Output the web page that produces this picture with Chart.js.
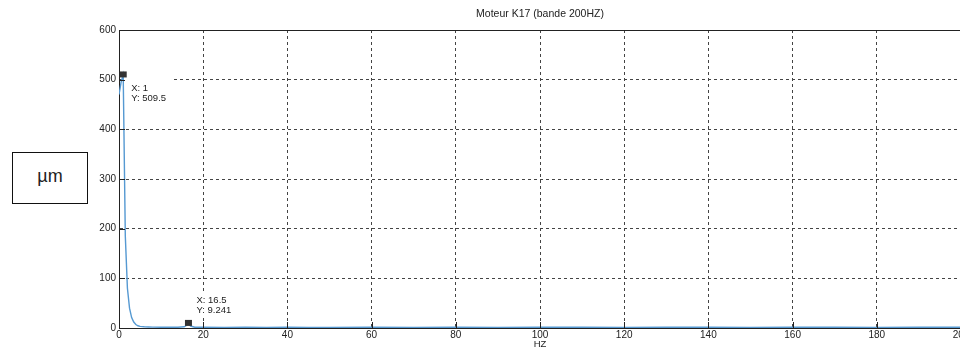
<!DOCTYPE html>
<html>
<head>
<meta charset="utf-8">
<script src="https://cdn.jsdelivr.net/npm/chart.js@4.4.0/dist/chart.umd.min.js"></script>
<style>
  html, body { margin: 0; padding: 0; background: #fff; overflow: hidden; }
  body { width: 960px; height: 349px; position: relative; }
  #wrap { position: absolute; left: 0; top: 0; width: 1000px; height: 349px; }
  #unit {
    position: absolute; left: 12px; top: 152px; width: 73px; height: 49px;
    border: 1.6px solid #111; font-family: "Liberation Sans", Arial, sans-serif;
    font-size: 18px; color: #222; display: flex; align-items: center; justify-content: center;
    background: #fff; line-height: 1; padding-bottom: 4px; box-sizing: border-box; height: 52px; width: 76px;
  }
</style>
</head>
<body>
<div id="wrap"><canvas id="c" width="1000" height="349"></canvas></div>
<div id="unit">µm</div>
<script>
// ---- data ----
const chartTitle = "Moteur K17 (bande 200HZ)";
const xAxisTitle = "HZ";
const freqHz = [0, 0.5, 1, 1.5, 2, 2.5, 3, 3.5, 4, 4.5, 5, 6, 7, 8, 10, 12, 14, 15.5, 16, 16.5, 17, 18, 20, 25, 30, 35, 40, 45, 50, 60, 70, 80, 90, 100, 110, 120, 130, 140, 150, 160, 170, 180, 190, 200];
const amplitude = [470, 495, 509.5, 185, 80, 40, 21, 12, 7, 4.5, 3.2, 2.4, 2.0, 1.7, 1.5, 1.4, 1.5, 2.5, 5.0, 9.241, 4.0, 1.6, 1.4, 1.3, 1.5, 1.2, 1.4, 1.3, 1.2, 1.4, 1.3, 1.5, 1.3, 1.4, 1.5, 1.3, 1.4, 1.5, 1.3, 1.4, 1.5, 1.3, 1.4, 1.5];
const xTicks = [0, 20, 40, 60, 80, 100, 120, 140, 160, 180, 200];
const yTicks = [0, 100, 200, 300, 400, 500, 600];
const tipX = [1, 16.5];
const tipY = [509.5, 9.241];

// ---- presentation ----
const FONT = "'Liberation Sans', Arial, sans-serif";
const tipLayout = [
  { dx: 8, dy1: 13, dy2: 23, box: [2, 3, 48, 30] },
  { dx: 8, dy1: -23, dy2: -13, box: [5, -30, 52, -6] }
];

const points = freqHz.map((f, i) => ({ x: f, y: amplitude[i] }));
const tipPoints = tipX.map((x, i) => ({ x: x, y: tipY[i] }));

const extras = {
  id: 'extras',
  afterDatasetsDraw(chart) {
    const { ctx, chartArea: a, scales: { x, y } } = chart;
    ctx.save();
    ctx.strokeStyle = '#222'; ctx.lineWidth = 1; ctx.setLineDash([]);
    ctx.beginPath(); ctx.moveTo(a.left, a.top + 0.5); ctx.lineTo(a.right, a.top + 0.5); ctx.stroke();
    ctx.beginPath(); ctx.moveTo(a.right - 0.5, a.top); ctx.lineTo(a.right - 0.5, a.bottom); ctx.stroke();
    xTicks.forEach(v => {
      const px = Math.round(x.getPixelForValue(v)) + 0.5;
      ctx.beginPath(); ctx.moveTo(px, a.bottom); ctx.lineTo(px, a.bottom - 6); ctx.stroke();
    });
    yTicks.forEach(v => {
      const py = Math.round(y.getPixelForValue(v)) + 0.5;
      ctx.beginPath(); ctx.moveTo(a.left, py); ctx.lineTo(a.left + 6, py); ctx.stroke();
    });
    tipPoints.forEach((p, i) => {
      const L = tipLayout[i];
      const px = x.getPixelForValue(p.x), py = y.getPixelForValue(p.y);
      ctx.fillStyle = '#fff';
      ctx.fillRect(px + L.box[0], py + L.box[1], L.box[2] - L.box[0], L.box[3] - L.box[1]);
      ctx.fillStyle = '#222';
      ctx.font = '9.5px ' + FONT;
      ctx.textBaseline = 'middle'; ctx.textAlign = 'left';
      ctx.fillText('X: ' + p.x, px + L.dx, py + L.dy1);
      ctx.fillText('Y: ' + p.y, px + L.dx, py + L.dy2);
      ctx.fillStyle = '#333';
      ctx.fillRect(px - 3.5, py - 3.5, 7, 6);
    });
    ctx.restore();
  }
};

new Chart(document.getElementById('c'), {
  type: 'line',
  data: {
    datasets: [{
      data: points,
      borderColor: '#5599d2',
      borderWidth: 1.4,
      pointRadius: 0,
      tension: 0,
      fill: false
    }]
  },
  options: {
    responsive: false,
    animation: false,
    layout: { padding: { left: 0, right: 39, top: 0, bottom: 0 } },
    plugins: {
      legend: { display: false },
      tooltip: { enabled: false },
      title: {
        display: true, text: chartTitle, color: '#222', fullSize: false,
        font: { family: FONT, size: 10.5, weight: 'normal' },
        padding: { top: 8, bottom: 9.4 }
      }
    },
    scales: {
      x: {
        type: 'linear', min: 0, max: 200,
        afterBuildTicks: s => { s.ticks = xTicks.map(v => ({ value: v })); },
        afterFit: s => { s.height = 21; },
        ticks: { color: '#222', font: { family: FONT, size: 10 }, padding: 1, maxRotation: 0 },
        grid: { color: '#444', lineWidth: 1, drawTicks: false },
        border: { display: true, color: '#222', width: 1, dash: [3, 3] },
        title: { display: true, text: xAxisTitle, color: '#222', font: { family: FONT, size: 9.5 }, padding: { top: 0, bottom: -1 } }
      },
      y: {
        type: 'linear', min: 0, max: 600,
        afterBuildTicks: s => { s.ticks = yTicks.map(v => ({ value: v })); },
        afterFit: s => { s.width = 119; },
        ticks: { color: '#222', font: { family: FONT, size: 10 }, padding: 3 },
        grid: { color: '#444', lineWidth: 1, drawTicks: false },
        border: { display: true, color: '#222', width: 1, dash: [3, 3] }
      }
    }
  },
  plugins: [extras]
});
</script>
</body>
</html>
